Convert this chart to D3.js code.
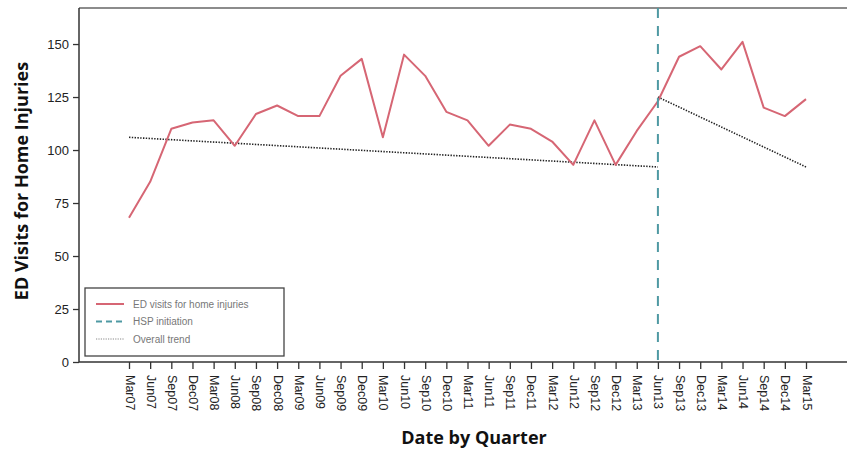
<!DOCTYPE html>
<html>
<head>
<meta charset="utf-8">
<script src="https://cdn.jsdelivr.net/npm/d3@7/dist/d3.min.js"></script>
<style>
  body { margin: 0; background: #fff; }
  svg { display: block; }
</style>
</head>
<body>
<svg id="chart" width="847" height="449"></svg>
<script>
// Quarterly ED visits for home injuries, Mar 2007 – Mar 2015
const quarters = [
  "Mar07","Jun07","Sep07","Dec07","Mar08","Jun08","Sep08","Dec08",
  "Mar09","Jun09","Sep09","Dec09","Mar10","Jun10","Sep10","Dec10",
  "Mar11","Jun11","Sep11","Dec11","Mar12","Jun12","Sep12","Dec12",
  "Mar13","Jun13","Sep13","Dec13","Mar14","Jun14","Sep14","Dec14","Mar15"
];
const visits = [
  68, 85, 110, 113, 114, 102, 117, 121,
  116, 116, 135, 143, 106, 145, 135, 118,
  114, 102, 112, 110, 104, 93, 114, 93,
  109, 123, 144, 149, 138, 151, 120, 116, 124
];
// Trend segments: [start quarter, start value, end quarter, end value]
const trendPre = [["Mar07", 106], ["Jun13", 92]];
const trendPost = [["Jun13", 125], ["Mar15", 92]];
const hspQuarter = "Jun13";
const yTicks = [0, 25, 50, 75, 100, 125, 150];
const legendItems = [
  { label: "ED visits for home injuries", kind: "visits" },
  { label: "HSP initiation", kind: "hsp" },
  { label: "Overall trend", kind: "trend" }
];

const redColor = "#d66674";
const tealColor = "#4f99a3";

const svg = d3.select("#chart");
const margin = { left: 79, right: 0, top: 8, bottom: 87 };
const W = 847, H = 449;
const plotBottom = H - margin.bottom; // 362

const x = d3.scalePoint().domain(quarters).range([129, 806]);
const y = d3.scaleLinear().domain([0, 167]).range([plotBottom, margin.top]);

// plot frame: top border
svg.append("line")
  .attr("x1", margin.left).attr("x2", W)
  .attr("y1", margin.top).attr("y2", margin.top)
  .attr("stroke", "#666").attr("stroke-width", 1.5);

// y axis
const yAxis = svg.append("g")
  .attr("transform", `translate(${margin.left},0)`)
  .call(d3.axisLeft(y).tickValues(yTicks).tickSize(6).tickPadding(4));
yAxis.select(".domain").attr("stroke", "#333").attr("stroke-width", 1.5)
  .attr("d", `M0,${margin.top}V${plotBottom}`);
yAxis.selectAll(".tick line").attr("stroke", "#333").attr("stroke-width", 1.3);
yAxis.selectAll(".tick text")
  .attr("font-family", "'Liberation Sans', Arial, sans-serif")
  .attr("font-size", 13).attr("fill", "#222");

// x axis
const xAxis = svg.append("g")
  .attr("transform", `translate(0,${plotBottom})`)
  .call(d3.axisBottom(x).tickSize(7).tickPadding(0));
xAxis.select(".domain").attr("stroke", "#333").attr("stroke-width", 1.5)
  .attr("d", `M${margin.left},0H${W}`);
xAxis.selectAll(".tick line").attr("stroke", "#333").attr("stroke-width", 1.3);
xAxis.selectAll(".tick text")
  .attr("font-family", "'Liberation Sans', Arial, sans-serif")
  .attr("font-size", 12.5).attr("fill", "#222")
  .attr("text-anchor", "start")
  .attr("dominant-baseline", "central")
  .attr("dy", null)
  .attr("transform", "translate(0,13) rotate(90)")
  .attr("x", 0).attr("y", 0);

// trend lines (dotted)
const trendLine = d3.line().x(d => x(d[0])).y(d => y(d[1]));
[trendPre, trendPost].forEach(seg => {
  svg.append("path")
    .attr("d", trendLine(seg))
    .attr("fill", "none")
    .attr("stroke", "#222")
    .attr("stroke-width", 1.6)
    .attr("stroke-dasharray", "1.4,1.4");
});

// visits series
const visitLine = d3.line().x((d, i) => x(quarters[i])).y(d => y(d));
svg.append("path")
  .datum(visits)
  .attr("d", visitLine)
  .attr("fill", "none")
  .attr("stroke", redColor)
  .attr("stroke-width", 2)
  .attr("stroke-linejoin", "round");

// HSP initiation marker
svg.append("line")
  .attr("x1", x(hspQuarter)).attr("x2", x(hspQuarter))
  .attr("y1", margin.top).attr("y2", plotBottom)
  .attr("stroke", tealColor)
  .attr("stroke-width", 2)
  .attr("stroke-dasharray", "10,8");

// legend
const lg = svg.append("g").attr("transform", "translate(85,288)");
lg.append("rect")
  .attr("width", 199).attr("height", 68)
  .attr("fill", "#fff").attr("stroke", "#444").attr("stroke-width", 1.3);
legendItems.forEach((item, i) => {
  const yy = 16 + i * 17.5;
  const ln = lg.append("line")
    .attr("x1", 11).attr("x2", 39)
    .attr("y1", yy).attr("y2", yy);
  if (item.kind === "visits") ln.attr("stroke", redColor).attr("stroke-width", 2);
  if (item.kind === "hsp") ln.attr("stroke", tealColor).attr("stroke-width", 2).attr("stroke-dasharray", "6,4");
  if (item.kind === "trend") ln.attr("stroke", "#888").attr("stroke-width", 1).attr("stroke-dasharray", "1.2,1.2");
  lg.append("text")
    .attr("x", 48).attr("y", yy)
    .attr("dominant-baseline", "central")
    .attr("font-family", "'Liberation Sans', Arial, sans-serif")
    .attr("font-size", 10).attr("fill", "#777")
    .text(item.label);
});

// axis titles
svg.append("text")
  .attr("transform", "translate(28,181) rotate(-90)")
  .attr("text-anchor", "middle")
  .attr("font-family", "'Open Sans', sans-serif")
  .attr("font-weight", "bold")
  .attr("font-size", 18).attr("fill", "#111")
  .text("ED Visits for Home Injuries");

svg.append("text")
  .attr("x", 474).attr("y", 444)
  .attr("text-anchor", "middle")
  .attr("font-family", "'Open Sans', sans-serif")
  .attr("font-weight", "bold")
  .attr("font-size", 18).attr("fill", "#111")
  .text("Date by Quarter");
</script>
</body>
</html>
